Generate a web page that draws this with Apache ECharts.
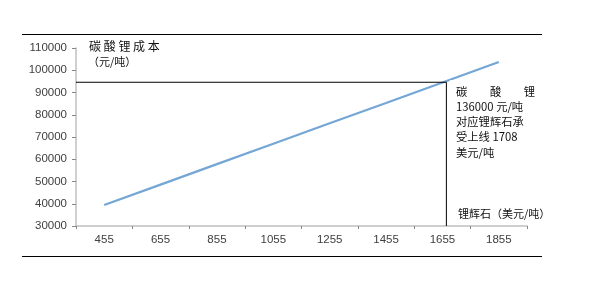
<!DOCTYPE html>
<html><head><meta charset="utf-8">
<script src="https://cdn.jsdelivr.net/npm/echarts@6/dist/echarts.min.js"></script>
<style>html,body{margin:0;padding:0;background:#fff}#c{width:590px;height:292px}</style>
</head><body><div id="c"></div>
<script>
var categories = ['455','655','855','1055','1255','1455','1655','1855'];
var oreX = [455,655,855,1055,1255,1455,1655,1855];
var costValues = [39400,48600,57800,67000,76200,85300,94500,103700];
var refX = 1669, refY = 94600;
var yTicks = {min:30000, max:110000, interval:10000};

var chart = echarts.init(document.getElementById('c'));
var numFont = 'Liberation Sans, Arial, sans-serif';
var cjk = '"Noto Sans CJK SC", sans-serif';
chart.setOption({
  animation:false,
  grid:{left:76, right:63, top:48, bottom:66},
  xAxis:[{
    type:'category', data:categories, boundaryGap:true,
    axisLine:{lineStyle:{color:'#c0c0c0', width:1.5}},
    axisTick:{show:true, length:3, lineStyle:{color:'#888'}},
    axisLabel:{color:'#404040', fontSize:11.5, fontFamily:numFont, margin:8}
  },{
    type:'value', min:355, max:1955, show:false
  }],
  yAxis:{
    type:'value', min:yTicks.min, max:yTicks.max, interval:yTicks.interval,
    axisLine:{show:true, lineStyle:{color:'#c0c0c0', width:1.5}},
    axisTick:{show:true, length:4, lineStyle:{color:'#888'}},
    splitLine:{show:false},
    axisLabel:{color:'#404040', fontSize:11.5, fontFamily:numFont, margin:9,
      formatter:function(v){return String(v);}}
  },
  series:[{
    type:'line', xAxisIndex:1, data:oreX.map(function(x,i){return [x,costValues[i]];}),
    symbol:'none', lineStyle:{color:'#74a6d6', width:2.2}, z:2
  },{
    type:'line', xAxisIndex:1, data:[[355,refY],[refX,refY],[refX,yTicks.min]],
    symbol:'none', lineStyle:{color:'#000', width:1}, z:3
  }],
  graphic:[
    {type:'line', shape:{x1:22,y1:34.5,x2:542,y2:34.5}, style:{stroke:'#000',lineWidth:1}},
    {type:'line', shape:{x1:22,y1:256.5,x2:542,y2:256.5}, style:{stroke:'#000',lineWidth:1}},
    {type:'text', left:89, top:40, style:{text:'碳 酸 锂 成 本', font:'12px '+cjk, fill:'#111'}},
    {type:'text', left:88, top:56, style:{text:'（元/吨）', font:'11px '+cjk, fill:'#111'}},
    {type:'text', left:450, top:80, z:5, style:{text:'碳　　酸　　锂\n136000 元/吨\n对应锂辉石承\n受上线 1708\n美元/吨', font:'11.3px '+cjk, fill:'#111', lineHeight:15.2, backgroundColor:'#fff', padding:[4,2,0,6]}},
    {type:'text', left:458, top:208, style:{text:'锂辉石（美元/吨）', font:'11px '+cjk, fill:'#111'}}
  ]
});
</script></body></html>
